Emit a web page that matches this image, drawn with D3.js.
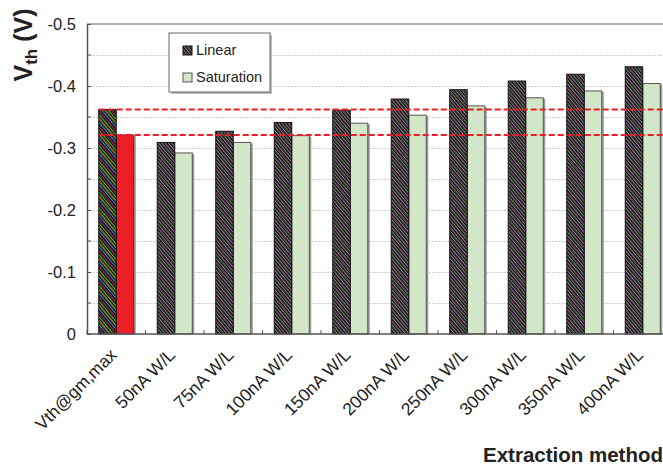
<!DOCTYPE html>
<html lang="en">
<head>
<meta charset="UTF-8">
<title>Vth extraction</title>
<style>
    body { margin: 0; background: #fff; }
    svg { display: block; font-family: "Liberation Sans", Arial, sans-serif; }
</style>
</head>
<body>
<div id="chart"></div>
<script src="https://cdn.jsdelivr.net/npm/d3@7"></script>
<script>
// data (V)
var categories = ["Vth@gm,max", "50nA W/L", "75nA W/L", "100nA W/L", "150nA W/L",
    "200nA W/L", "250nA W/L", "300nA W/L", "350nA W/L", "400nA W/L"];
var seriesNames = ["Linear", "Saturation"];
var linearVals = [-0.362, -0.309, -0.327, -0.341, -0.361, -0.379, -0.394, -0.408, -0.419, -0.431];
var satVals = [-0.321, -0.292, -0.309, -0.320, -0.340, -0.353, -0.368, -0.381, -0.392, -0.404];
var yTicks = [0, -0.1, -0.2, -0.3, -0.4, -0.5];
var yMinor = [-0.05, -0.15, -0.25, -0.35, -0.45];

var W = 663, H = 468;
var plotLeft = 87, plotTop = 24, plotBottom = 334;

var svg = d3.select("#chart").append("svg")
    .attr("width", W).attr("height", H);

var defs = svg.append("defs");

// hatch for linear bars
function hatch(id, colors) {
    var p = defs.append("pattern")
        .attr("id", id)
        .attr("patternUnits", "userSpaceOnUse")
        .attr("width", 2.5 * colors.length).attr("height", 6)
        .attr("patternTransform", "rotate(-40)");
    p.append("rect").attr("width", 2.5 * colors.length).attr("height", 6).attr("fill", "#050505");
    colors.forEach(function (c, i) {
        p.append("rect").attr("x", i * 2.5).attr("width", 1.1).attr("height", 6).attr("fill", c);
    });
}
hatch("hatchLin", ["#a07cb0", "#6fa06a", "#b07a98"]);
hatch("hatchFirst", ["#3a8be5", "#d9c23a", "#4fc34f", "#d43a5a"]);

var x0 = d3.scaleBand().domain(categories).range([plotLeft, plotLeft + 58.5 * categories.length]);
var x1 = d3.scaleBand().domain(seriesNames).range([0, x0.bandwidth()]).paddingOuter(0.67);
var y = d3.scaleLinear().domain([0, -0.5]).range([plotBottom, plotTop]);

// grid
svg.append("g").selectAll("line")
    .data(yMinor.concat(yTicks.filter(function (d) { return d !== 0 && d !== -0.5; })))
    .enter().append("line")
    .attr("x1", plotLeft).attr("x2", W)
    .attr("y1", function (d) { return y(d) + 0.5; })
    .attr("y2", function (d) { return y(d) + 0.5; })
    .attr("stroke", "#cfcfcf")
    .attr("stroke-dasharray", "2,1");

svg.append("line")
    .attr("x1", plotLeft).attr("x2", W)
    .attr("y1", y(-0.5)).attr("y2", y(-0.5))
    .attr("stroke", "#9a9a9a").attr("stroke-width", 1.5);

// bars
var groups = svg.append("g").selectAll("g")
    .data(categories)
    .enter().append("g")
    .attr("transform", function (d) { return "translate(" + x0(d) + ",0)"; });

groups.append("rect")
    .attr("x", x1("Saturation") + 2)
    .attr("y", function (d, i) { return y(satVals[i]) + 1; })
    .attr("width", x1.bandwidth())
    .attr("height", function (d, i) { return plotBottom - y(satVals[i]) - 1; })
    .attr("fill", "#9a9a9a");

groups.append("rect")
    .attr("x", x1("Saturation"))
    .attr("y", function (d, i) { return y(satVals[i]); })
    .attr("width", x1.bandwidth())
    .attr("height", function (d, i) { return plotBottom - y(satVals[i]); })
    .attr("fill", function (d, i) { return i === 0 ? "#ed1f26" : "#d3e6c8"; })
    .attr("stroke", function (d, i) { return i === 0 ? "#7a1a1a" : "#555"; })
    .attr("stroke-width", 1);

groups.append("rect")
    .attr("x", x1("Linear"))
    .attr("y", function (d, i) { return y(linearVals[i]); })
    .attr("width", x1.bandwidth())
    .attr("height", function (d, i) { return plotBottom - y(linearVals[i]); })
    .attr("fill", function (d, i) { return i === 0 ? "url(#hatchFirst)" : "url(#hatchLin)"; })
    .attr("stroke", "#111")
    .attr("stroke-width", 1);

// reference lines
svg.append("g").selectAll("line")
    .data([linearVals[0], satVals[0]])
    .enter().append("line")
    .attr("x1", x0(categories[0]) + x1("Linear")).attr("x2", W)
    .attr("y1", function (d) { return y(d); })
    .attr("y2", function (d) { return y(d); })
    .attr("stroke", "#ee1c25")
    .attr("stroke-width", 2)
    .attr("stroke-dasharray", "6,3");

// y axis
var yAxis = svg.append("g")
    .attr("transform", "translate(" + plotLeft + ",0)")
    .call(d3.axisLeft(y).tickValues(yTicks)
        .tickSizeInner(-4).tickSizeOuter(0).tickPadding(11)
        .tickFormat(function (d) { return d === 0 ? "0" : d.toFixed(1); }));
yAxis.select(".domain").attr("stroke", "#555").attr("stroke-width", 1.5);
yAxis.selectAll(".tick line").attr("stroke", "#555");
yAxis.selectAll("text").attr("font-size", 16.5).attr("fill", "#222");

svg.append("g").selectAll("line")
    .data(yMinor)
    .enter().append("line")
    .attr("x1", plotLeft).attr("x2", plotLeft + 4)
    .attr("y1", function (d) { return y(d); })
    .attr("y2", function (d) { return y(d); })
    .attr("stroke", "#555");

// x axis
svg.append("line")
    .attr("x1", plotLeft).attr("x2", W)
    .attr("y1", plotBottom).attr("y2", plotBottom)
    .attr("stroke", "#555").attr("stroke-width", 1.5);

svg.append("g").selectAll("line")
    .data(categories)
    .enter().append("line")
    .attr("x1", function (d) { return x0(d); })
    .attr("x2", function (d) { return x0(d); })
    .attr("y1", plotBottom).attr("y2", plotBottom - 4)
    .attr("stroke", "#555");

svg.append("g").selectAll("text")
    .data(categories)
    .enter().append("text")
    .attr("transform", function (d) {
        return "translate(" + (x0(d) + x0.bandwidth() / 2 + 1.5) + "," + 356 + ") rotate(-45)";
    })
    .attr("text-anchor", "end")
    .attr("font-size", 17.5)
    .attr("fill", "#222")
    .text(function (d) { return d; });

// axis titles
var yt = svg.append("text")
    .attr("transform", "translate(32,45) rotate(-90)")
    .attr("text-anchor", "middle")
    .attr("font-size", 25)
    .attr("font-weight", "bold")
    .attr("fill", "#222");
yt.append("tspan").text("V");
yt.append("tspan").attr("font-size", 17).attr("dy", 5).text("th");
yt.append("tspan").attr("dy", -5).text(" (V)");

svg.append("text")
    .attr("x", 483).attr("y", 462)
    .attr("font-size", 20.5)
    .attr("font-weight", "bold")
    .attr("fill", "#222")
    .text("Extraction method");

// legend
var lg = svg.append("g").attr("transform", "translate(169,33)");
lg.append("rect")
    .attr("x", 2).attr("y", 2).attr("width", 101).attr("height", 59)
    .attr("fill", "#bbb");
lg.append("rect")
    .attr("width", 101).attr("height", 59)
    .attr("fill", "#fff").attr("stroke", "#666");
var items = lg.selectAll("g.item")
    .data(seriesNames)
    .enter().append("g")
    .attr("class", "item")
    .attr("transform", function (d, i) { return "translate(14," + (13 + i * 27) + ")"; });
items.append("rect")
    .attr("width", 9).attr("height", 9)
    .attr("fill", function (d, i) { return i === 0 ? "url(#hatchLin)" : "#d3e6c8"; })
    .attr("stroke", function (d, i) { return i === 0 ? "#111" : "#555"; });
items.append("text")
    .attr("x", 13).attr("y", 9)
    .attr("font-size", 14.5)
    .attr("fill", "#222")
    .text(function (d) { return d; });
</script>
</body>
</html>
